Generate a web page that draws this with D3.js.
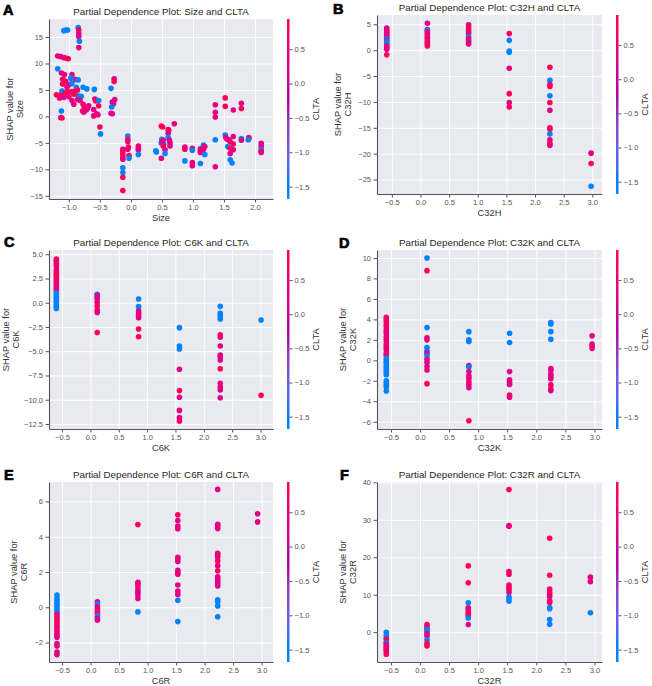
<!DOCTYPE html>
<html>
<head>
<meta charset="utf-8">
<script src="https://cdn.jsdelivr.net/npm/d3@7"></script>
<style>
  body { margin: 0; background: #fff; }
  svg { display: block; }
</style>
</head>
<body>
<svg id="chart" width="652" height="686"></svg>
<script>
// each point: [feature value, SHAP value, CLTA value]
const sizePts = [
  [-1.08,16.2,-1.6],[-1.05,16.3,-1.6],[-1.02,16.3,-1.6],
  [-0.85,16.8,-1.6],[-0.84,16.3,0.9],[-0.84,15.7,0.35],[-0.84,15.1,0.35],[-0.83,14.2,-1.6],[-0.84,13.0,0.35],
  [-1.18,11.4,0.35],[-1.13,11.3,0.35],[-1.08,11.1,0.35],[-1.04,11.0,0.9],[-1.01,10.9,0.9],
  [-1.18,9.0,-1.6],
  [-1.12,8.2,0.35],[-1.07,7.9,0.35],[-0.95,7.9,0.35],[-0.9,7.0,0.35],[-1.1,7.0,0.35],[-1.05,6.6,0.35],
  [-1.0,6.0,0.35],[-1.1,6.1,0.9],[-1.03,5.5,0.35],[-1.08,6.8,0.9],
  [-0.97,7.2,-1.6],[-0.95,6.2,-1.6],[-0.85,6.9,-1.6],[-0.88,5.5,-1.6],[-1.11,4.8,-1.6],[-0.77,5.5,-1.6],
  [-0.71,5.2,-1.6],[-0.8,3.8,-1.6],[-0.59,5.1,-1.6],[-0.85,3.9,-1.6],
  [-1.2,4.1,0.9],[-1.15,4.0,0.9],[-1.1,3.9,0.9],[-1.05,4.5,0.9],[-1.0,4.6,0.9],[-0.95,4.7,0.9],
  [-0.9,4.8,0.9],[-0.86,5.0,0.9],[-0.92,4.2,0.9],
  [-1.15,3.5,0.35],[-1.08,3.6,0.35],[-1.0,3.7,0.35],[-0.95,3.0,0.35],[-0.92,2.3,0.35],[-0.86,3.2,0.35],[-0.82,3.0,0.35],
  [-0.77,2.3,0.35],[-0.75,1.8,0.9],[-0.7,1.5,0.35],[-0.68,2.0,0.35],[-0.78,1.0,0.9],[-0.76,0.8,0.35],[-0.72,1.2,0.35],
  [-1.12,1.0,-1.6],[-1.13,-0.2,0.35],[-1.11,-0.3,0.9],
  [-0.58,3.3,0.35],[-0.57,2.9,0.9],[-0.6,1.3,0.35],[-0.6,0.1,0.35],[-0.55,0.5,0.9],
  [-0.52,3.0,-1.6],[-0.52,2.0,0.9],[-0.53,0.3,0.35],
  [-0.5,-2.0,0.9],[-0.49,-3.3,-1.6],
  [-0.32,5.3,-1.6],[-0.3,2.7,0.35],[-0.28,2.4,0.35],[-0.31,1.8,-1.6],[-0.32,0.6,0.35],[-0.3,0.5,0.35],
  [-0.27,7.1,0.35],[-0.27,6.6,0.9],[-0.26,3.2,0.35],
  [-0.13,-6.2,0.35],[-0.13,-6.7,0.9],[-0.13,-7.2,0.9],[-0.13,-7.7,0.9],[-0.13,-8.1,0.35],[-0.13,-9.7,-1.6],
  [-0.13,-10.6,-1.6],[-0.13,-11.5,0.9],[-0.13,-14.0,0.9],
  [-0.05,-3.7,-1.6],[-0.05,-4.3,0.9],[-0.05,-4.8,0.35],[-0.04,-5.8,0.9],[-0.05,-6.2,0.35],[-0.03,-7.4,0.9],[-0.03,-7.9,-1.6],
  [0.12,-5.6,0.9],[0.12,-6.0,0.35],[0.12,-6.3,0.35],[0.12,-7.2,-1.6],
  [0.4,-6.5,-1.6],[0.41,-6.7,-1.6],
  [0.49,-1.8,0.9],[0.51,-2.0,0.9],[0.5,-4.3,-1.6],[0.49,-5.0,-1.6],[0.5,-4.8,0.35],[0.53,-5.2,-1.6],[0.52,-5.6,0.9],
  [0.55,-6.3,0.35],[0.55,-7.0,-1.6],[0.49,-7.9,0.35],[0.52,-4.5,0.35],
  [0.6,-2.5,0.35],[0.61,-2.6,0.9],[0.6,-3.2,0.35],[0.6,-4.0,-1.6],[0.62,-4.5,0.35],[0.63,-5.0,0.35],[0.63,-5.6,0.35],[0.7,-1.4,0.35],
  [0.87,-5.8,0.35],[0.87,-6.2,0.9],[0.87,-8.4,-1.6],
  [0.99,-6.0,0.35],[0.99,-6.4,-1.6],[0.99,-8.7,0.35],[0.99,-9.3,0.35],
  [1.12,-6.1,0.35],[1.12,-6.5,0.9],[1.12,-6.8,0.35],[1.12,-8.9,-1.6],
  [1.17,-5.4,-1.6],[1.19,-5.7,0.35],[1.17,-6.2,0.35],[1.19,-7.2,-1.6],
  [1.36,2.2,0.35],[1.36,0.8,0.35],[1.36,-0.1,0.35],[1.36,-4.4,-1.6],[1.36,-9.5,0.35],
  [1.52,3.5,0.9],[1.52,1.9,0.9],[1.52,-3.5,-1.6],[1.53,-4.0,0.35],[1.55,-4.3,0.35],[1.56,-5.7,-1.6],[1.58,-4.4,0.35],
  [1.6,-4.8,0.35],[1.6,-6.0,0.9],[1.6,-7.0,0.35],[1.6,-8.2,-1.6],[1.63,-8.8,-1.6],
  [1.65,1.2,0.35],[1.65,-3.8,0.35],[1.65,-5.2,0.9],[1.65,-6.3,0.35],
  [1.78,2.5,0.35],[1.78,1.5,0.9],[1.78,-4.2,-1.6],[1.78,-4.5,0.35],
  [1.9,-4.0,0.9],[1.9,-4.2,0.35],[1.89,-4.4,-1.6],
  [2.1,-5.1,0.35],[2.1,-5.7,0.35],[2.1,-6.3,-1.6],[2.1,-6.8,0.9],[2.1,-6.6,0.35]
];

const c32hPts = [
  [-0.59,4.3,0.35],[-0.59,4.0,0.35],[-0.59,3.7,0.35],[-0.59,3.4,0.35],[-0.59,3.1,0.35],[-0.59,2.8,0.35],
  [-0.59,2.5,0.35],[-0.59,2.2,-1.6],[-0.59,1.9,0.35],[-0.59,1.6,-1.6],[-0.59,1.3,-1.6],[-0.59,1.0,-1.6],
  [-0.59,0.8,0.35],[-0.59,0.5,0.9],[-0.59,0.2,0.35],[-0.59,-0.9,0.9],
  [0.12,5.2,0.35],[0.12,4.0,0.35],[0.12,3.8,-1.6],[0.12,3.5,0.35],[0.12,3.2,0.35],[0.12,2.9,0.35],
  [0.12,2.5,0.9],[0.12,2.2,0.35],[0.12,1.8,0.35],[0.12,1.5,0.35],[0.12,1.2,0.9],[0.12,0.8,0.9],
  [0.84,4.9,0.35],[0.84,4.5,0.9],[0.84,4.0,0.35],[0.84,3.6,0.9],[0.84,3.2,0.35],[0.84,2.6,-1.6],
  [0.84,2.2,0.9],[0.84,1.8,0.35],[0.84,1.5,0.35],[0.84,1.2,0.35],
  [1.55,3.2,0.9],[1.55,1.9,-1.6],[1.55,-0.15,-1.6],[1.55,-0.4,-1.6],[1.55,-3.5,0.35],[1.55,-8.4,0.9],
  [1.55,-10.1,0.35],[1.55,-11.0,0.9],
  [2.26,-3.3,0.9],[2.26,-5.8,-1.6],[2.26,-6.6,0.35],[2.26,-7.0,0.9],[2.26,-8.8,-1.6],[2.26,-10.1,0.9],
  [2.26,-11.6,0.35],[2.26,-15.0,0.9],[2.26,-15.3,0.9],[2.26,-16.2,-1.6],[2.26,-17.3,0.35],[2.26,-18.0,0.9],[2.26,-18.4,0.35],
  [2.98,-19.9,0.35],[2.98,-21.9,0.9],[2.98,-26.3,-1.6]
];

const c6kPts = [
  [-0.6,4.5,0.9],[-0.6,4.3,0.35],[-0.6,4.1,0.9],[-0.6,3.9,0.35],[-0.6,3.7,0.9],[-0.6,3.4,0.35],[-0.6,3.2,0.35],
  [-0.6,3.0,0.9],[-0.6,2.8,0.9],[-0.6,2.6,0.35],[-0.6,2.4,0.9],[-0.6,2.2,0.9],[-0.6,2.0,0.35],[-0.6,1.8,0.35],
  [-0.6,1.6,0.35],[-0.6,1.4,0.9],[-0.6,1.2,0.35],[-0.6,1.0,-1.6],[-0.6,0.8,-1.6],[-0.6,0.6,-1.6],[-0.6,0.4,-1.6],
  [-0.6,0.2,-1.6],[-0.6,0.0,-1.6],[-0.6,-0.2,-1.6],[-0.6,-0.4,-1.6],[-0.6,-0.6,-1.6],
  [0.12,0.87,-1.6],[0.12,0.6,-1.6],[0.12,0.73,0.35],[0.12,0.4,0.35],[0.12,0.05,0.35],[0.12,-0.33,0.9],
  [0.12,-0.74,0.35],[0.12,-1.0,0.35],[0.12,-3.07,0.9],
  [0.85,0.39,-1.6],[0.85,-0.4,-1.6],[0.85,-0.85,0.35],[0.85,-1.1,0.35],[0.85,-1.34,0.35],[0.85,-1.55,0.35],
  [0.85,-2.7,0.9],[0.85,-3.5,0.9],
  [1.57,-2.57,-1.6],[1.57,-4.46,-1.6],[1.57,-4.77,-1.6],[1.57,-6.86,0.35],[1.57,-9.06,0.9],[1.57,-9.75,0.35],
  [1.57,-11.1,0.35],[1.57,-11.85,0.35],[1.57,-12.2,0.9],
  [2.29,-0.37,-1.6],[2.29,-1.1,-1.6],[2.29,-1.36,-1.6],[2.29,-1.67,-1.6],[2.29,-3.3,0.9],[2.29,-3.56,0.35],
  [2.29,-4.46,0.35],[2.29,-5.4,0.35],[2.29,-5.6,0.35],[2.29,-5.9,0.35],[2.29,-6.8,0.9],[2.29,-8.3,0.35],
  [2.29,-8.7,0.35],[2.29,-9.0,0.35],[2.29,-9.8,0.35],
  [3.01,-1.78,-1.6],[3.01,-9.55,0.9]
];

const c32kPts = [
  [-0.58,4.2,0.9],[-0.58,4.0,0.35],[-0.58,3.8,0.9],[-0.58,3.5,0.35],[-0.58,3.3,0.9],[-0.58,3.0,0.35],
  [-0.58,2.8,0.9],[-0.58,2.6,0.35],[-0.58,2.3,0.35],[-0.58,2.1,0.9],[-0.58,1.9,0.35],[-0.58,1.6,0.35],
  [-0.58,1.4,0.9],[-0.58,1.2,0.35],[-0.58,1.0,0.35],[-0.58,0.7,0.9],[-0.58,0.5,0.35],
  [-0.58,0.2,-1.6],[-0.58,0.0,-1.6],[-0.58,-0.2,-1.6],[-0.58,-0.4,-1.6],[-0.58,-0.6,-1.6],[-0.58,-0.8,-1.6],
  [-0.58,-1.0,-1.6],[-0.58,-1.2,-1.6],[-0.58,-1.4,-1.6],[-0.58,-2.0,-1.6],[-0.58,-2.2,-1.6],[-0.58,-2.4,-1.6],
  [-0.58,-2.6,-1.6],[-0.58,-3.0,-1.6],
  [0.12,10.0,-1.6],[0.12,8.76,0.9],[0.12,3.2,-1.6],[0.12,2.2,0.35],[0.12,2.0,0.35],[0.12,1.24,-1.6],
  [0.12,0.9,-1.6],[0.12,0.7,0.35],[0.12,0.45,-1.6],[0.12,0.1,0.35],[0.12,-0.2,0.35],[0.12,-0.6,0.35],
  [0.12,-0.95,0.35],[0.12,-2.28,0.9],
  [0.84,2.8,-1.6],[0.84,2.0,-1.6],[0.84,1.85,-1.6],[0.84,-0.52,0.35],[0.84,-0.65,-1.6],[0.84,-1.1,0.35],
  [0.84,-1.5,0.35],[0.84,-1.76,0.35],[0.84,-2.08,0.9],[0.84,-2.35,0.35],[0.84,-2.67,0.35],[0.84,-5.9,0.9],
  [1.54,2.64,-1.6],[1.54,1.73,-1.6],[1.54,-1.1,0.35],[1.54,-1.9,0.35],[1.54,-2.15,0.35],[1.54,-2.35,0.35],
  [1.54,-3.4,0.9],[1.54,-3.6,0.35],
  [2.25,3.7,-1.6],[2.25,3.55,-1.6],[2.25,2.8,-1.6],[2.25,2.05,-1.6],[2.25,-0.8,0.35],[2.25,-1.0,0.35],
  [2.25,-1.37,0.35],[2.25,-1.6,0.35],[2.25,-1.8,0.35],[2.25,-2.4,0.9],[2.25,-2.8,0.9],[2.25,-2.96,0.35],
  [2.96,2.4,0.35],[2.96,1.6,0.9],[2.96,1.43,0.35],[2.96,1.17,0.35]
];

const c6rPts = [
  [-0.59,0.69,-1.6],[-0.59,0.5,-1.6],[-0.59,0.35,-1.6],[-0.59,0.2,-1.6],[-0.59,0.05,-1.6],[-0.59,-0.1,-1.6],
  [-0.59,-0.25,-1.6],[-0.59,-0.4,0.35],[-0.59,-0.55,0.9],[-0.59,-0.7,0.35],[-0.59,-0.85,0.9],[-0.59,-1.0,0.9],
  [-0.59,-1.15,0.35],[-0.59,-1.3,0.9],[-0.59,-1.45,0.35],[-0.59,-1.6,0.9],[-0.59,-1.7,0.35],
  [-0.59,-2.06,0.35],[-0.59,-2.2,0.35],[-0.59,-2.53,0.35],[-0.59,-2.68,0.35],
  [0.12,0.31,0.35],[0.12,0.18,-1.6],[0.12,0.03,0.35],[0.12,-0.1,0.35],[0.12,-0.22,0.9],[0.12,-0.35,0.35],
  [0.12,-0.5,-1.6],[0.12,-0.63,0.35],[0.12,-0.73,0.35],
  [0.83,4.69,0.9],[0.83,1.41,0.35],[0.83,1.32,0.35],[0.83,1.17,0.9],[0.83,0.98,0.35],[0.83,0.84,0.35],
  [0.83,0.69,0.35],[0.83,0.5,0.35],[0.83,-0.26,-1.6],
  [1.53,5.24,0.9],[1.53,4.92,0.35],[1.53,4.6,0.35],[1.53,4.45,0.35],[1.53,2.83,0.9],[1.53,2.72,0.35],
  [1.53,2.6,0.35],[1.53,2.1,0.35],[1.53,1.98,0.35],[1.53,1.87,0.35],[1.53,1.26,0.35],[1.53,0.92,0.35],
  [1.53,0.73,0.35],[1.53,0.4,-1.6],[1.53,-0.81,-1.6],
  [2.23,6.68,0.35],[2.23,4.71,0.35],[2.23,4.6,0.35],[2.23,4.46,0.35],[2.23,3.06,0.9],[2.23,2.97,0.35],
  [2.23,2.85,0.35],[2.23,2.63,0.9],[2.23,2.36,0.35],[2.23,2.07,0.9],[2.23,1.73,0.35],[2.23,1.6,0.35],
  [2.23,1.47,0.35],[2.23,1.34,0.35],[2.23,1.2,0.35],[2.23,0.43,-1.6],[2.23,0.31,-1.6],[2.23,0.08,-1.6],[2.23,-0.54,-1.6],
  [2.93,5.3,0.35],[2.93,4.84,0.35]
];

const c32rPts = [
  [-0.58,0.0,-1.6],[-0.58,-0.8,-1.6],[-0.58,-1.4,-1.6],[-0.58,-1.9,0.9],[-0.58,-2.6,0.35],[-0.58,-2.9,-1.6],
  [-0.58,-3.3,0.35],[-0.58,-3.7,0.9],[-0.58,-4.1,0.35],[-0.58,-4.4,0.35],[-0.58,-4.8,0.9],[-0.58,-5.3,0.35],[-0.58,-5.9,0.9],
  [0.12,2.05,0.9],[0.12,1.43,0.35],[0.12,1.0,0.9],[0.12,0.71,-1.6],[0.12,0.1,-1.6],[0.12,-0.36,0.35],
  [0.12,-1.0,0.35],[0.12,-2.0,-1.6],[0.12,-3.0,0.9],[0.12,-3.66,0.9],
  [0.83,17.7,0.9],[0.83,13.2,0.9],[0.83,7.86,-1.6],[0.83,6.5,0.35],[0.83,6.0,0.35],[0.83,5.3,0.9],
  [0.83,4.8,0.35],[0.83,4.3,0.9],[0.83,3.8,-1.6],[0.83,2.05,0.35],
  [1.53,38.1,0.9],[1.53,28.5,0.9],[1.53,28.3,0.35],[1.53,16.2,0.35],[1.53,15.5,0.9],[1.53,12.6,0.35],
  [1.53,12.0,0.9],[1.53,11.3,0.9],[1.53,10.6,0.35],[1.53,9.4,-1.6],[1.53,8.8,-1.6],[1.53,8.3,-1.6],
  [2.23,25.1,0.9],[2.23,15.2,0.9],[2.23,11.5,0.9],[2.23,10.7,0.35],[2.23,10.1,0.9],[2.23,9.5,0.35],
  [2.23,8.4,0.35],[2.23,7.9,0.9],[2.23,6.6,-1.6],[2.23,6.25,-1.6],[2.23,3.4,-1.6],[2.23,2.1,-1.6],
  [2.93,14.7,0.35],[2.93,13.5,0.35],[2.93,5.2,-1.6]
];

const sizeXTicks = [-1.0, -0.5, 0.0, 0.5, 1.0, 1.5, 2.0];
const featureXTicks = [-0.5, 0.0, 0.5, 1.0, 1.5, 2.0, 2.5, 3.0];
const sizeYTicks = [-15, -10, -5, 0, 5, 10, 15];
const c32hYTicks = [-25, -20, -15, -10, -5, 0, 5];
const c6kYTicks = [-12.5, -10.0, -7.5, -5.0, -2.5, 0.0, 2.5, 5.0];
const c32kYTicks = [-6, -4, -2, 0, 2, 4, 6, 8, 10];
const c6rYTicks = [-2, 0, 2, 4, 6];
const c32rYTicks = [0, 10, 20, 30, 40];
const cltaTicks = [-1.5, -1.0, -0.5, 0.0, 0.5];
const cltaRange = [-1.68, 0.94];

const FONT = '"Liberation Sans", Arial, sans-serif';

const panels = [
  { letter: 'A', feature: 'Size', pts: sizePts, left: 49, right: 273, top: 19, bottom: 199,
    xDomain: [-1.32, 2.29], yDomain: [-15.6, 18.4], xTicks: sizeXTicks, yTicks: sizeYTicks, yFmt: 'd',
    ylabX: 12.5, letterX: 3, letterY: 15 },
  { letter: 'B', feature: 'C32H', pts: c32hPts, left: 377, right: 602, top: 15, bottom: 194,
    xDomain: [-0.76, 3.17], yDomain: [-27.8, 6.8], xTicks: featureXTicks, yTicks: c32hYTicks, yFmt: 'd',
    ylabX: 341, letterX: 333, letterY: 14 },
  { letter: 'C', feature: 'C6K', pts: c6kPts, left: 49, right: 273, top: 250, bottom: 429,
    xDomain: [-0.73, 3.22], yDomain: [-13.02, 5.44], xTicks: featureXTicks, yTicks: c6kYTicks, yFmt: '.1f',
    ylabX: 8.5, letterX: 4, letterY: 247 },
  { letter: 'D', feature: 'C32K', pts: c32kPts, left: 377, right: 602, top: 250, bottom: 429,
    xDomain: [-0.74, 3.13], yDomain: [-6.71, 10.78], xTicks: featureXTicks, yTicks: c32kYTicks, yFmt: 'd',
    ylabX: 345.5, letterX: 339, letterY: 248 },
  { letter: 'E', feature: 'C6R', pts: c6rPts, left: 49, right: 273, top: 482, bottom: 662,
    xDomain: [-0.73, 3.2], yDomain: [-3.1, 7.1], xTicks: featureXTicks, yTicks: c6rYTicks, yFmt: 'd',
    ylabX: 17, letterX: 4, letterY: 480 },
  { letter: 'F', feature: 'C32R', pts: c32rPts, left: 377, right: 602, top: 482, bottom: 662,
    xDomain: [-0.74, 3.13], yDomain: [-7.96, 40.1], xTicks: featureXTicks, yTicks: c32rYTicks, yFmt: 'd',
    ylabX: 345.5, letterX: 340, letterY: 480 }
];

// shap "red_blue": LCH ramp, blue -> dark purple mid -> red
function redBlue(t) {
  const l = t < 0.5 ? 54 - 28 * t : 40 + 28 * (t - 0.5);
  return d3.hcl(266.93 + 113.39 * t, 70 + 20 * t, l).formatHex();
}
const cNorm = d3.scaleLinear().domain(cltaRange).range([0, 1]).clamp(true);
const color = v => redBlue(cNorm(v));

const svg = d3.select('#chart');

// colorbar gradient
const grad = svg.append('defs').append('linearGradient')
  .attr('id', 'cbar').attr('x1', 0).attr('y1', 1).attr('x2', 0).attr('y2', 0);
d3.range(0, 1.0001, 0.05).forEach(t => {
  grad.append('stop').attr('offset', t).attr('stop-color', redBlue(t));
});

function styleAxis(ax) {
  ax.attr('font-family', FONT).attr('font-size', 7.5);
  ax.selectAll('text').attr('fill', '#555');
  ax.selectAll('line').attr('stroke', '#555');
  ax.selectAll('.domain').attr('stroke', '#555').attr('stroke-width', 1.1);
}

panels.forEach(p => {
  const x = d3.scaleLinear().domain(p.xDomain).range([p.left, p.right]);
  const y = d3.scaleLinear().domain(p.yDomain).range([p.bottom, p.top]);
  const g = svg.append('g');
  const h = p.bottom - p.top, w = p.right - p.left;

  g.append('rect').attr('x', p.left).attr('y', p.top).attr('width', w).attr('height', h)
    .attr('fill', '#e8e9f1');

  // grid
  const gx = g.append('g').attr('transform', `translate(0,${p.bottom})`)
    .call(d3.axisBottom(x).tickValues(p.xTicks).tickSize(-h).tickFormat(''));
  const gy = g.append('g').attr('transform', `translate(${p.left},0)`)
    .call(d3.axisLeft(y).tickValues(p.yTicks).tickSize(-w).tickFormat(''));
  [gx, gy].forEach(a => {
    a.select('.domain').remove();
    a.selectAll('line').attr('stroke', '#fff').attr('stroke-width', 1);
  });

  // points
  g.append('g').selectAll('circle').data(p.pts).enter().append('circle')
    .attr('cx', d => x(d[0])).attr('cy', d => y(d[1])).attr('r', 2.8)
    .attr('fill', d => color(d[2]));

  // axes
  const ax = g.append('g').attr('transform', `translate(0,${p.bottom})`)
    .call(d3.axisBottom(x).tickValues(p.xTicks).tickSize(3.5).tickSizeOuter(0).tickPadding(2)
      .tickFormat(d3.format('.1f')));
  const ay = g.append('g').attr('transform', `translate(${p.left},0)`)
    .call(d3.axisLeft(y).tickValues(p.yTicks).tickSize(3.5).tickSizeOuter(0).tickPadding(2.5)
      .tickFormat(d3.format(p.yFmt)));
  styleAxis(ax);
  styleAxis(ay);

  // title and labels
  g.append('text').attr('x', (p.left + p.right) / 2).attr('y', p.top - 4.5)
    .attr('text-anchor', 'middle').attr('font-family', FONT).attr('font-size', 9.8).attr('fill', '#262626')
    .text(`Partial Dependence Plot: ${p.feature} and CLTA`);
  g.append('text').attr('x', (p.left + p.right) / 2).attr('y', p.bottom + 21.5)
    .attr('text-anchor', 'middle').attr('font-family', FONT).attr('font-size', 9.3).attr('fill', '#333')
    .text(p.feature);
  const yl = g.append('text')
    .attr('transform', `translate(${p.ylabX},${(p.top + p.bottom) / 2}) rotate(-90)`)
    .attr('text-anchor', 'middle').attr('font-family', FONT).attr('font-size', 9.3).attr('fill', '#333');
  yl.append('tspan').attr('x', 0).attr('y', 0).text('SHAP value for');
  yl.append('tspan').attr('x', 0).attr('y', 10).text(p.feature);

  // colorbar
  const cx = p.right + 14;
  g.append('rect').attr('x', cx).attr('y', p.top).attr('width', 2.5).attr('height', h)
    .attr('fill', 'url(#cbar)');
  const cScale = d3.scaleLinear().domain(cltaRange).range([p.bottom, p.top]);
  const ac = g.append('g').attr('transform', `translate(${cx + 2.5},0)`)
    .call(d3.axisRight(cScale).tickValues(cltaTicks).tickSize(3).tickPadding(2).tickFormat(d3.format('.1f')));
  ac.select('.domain').remove();
  styleAxis(ac);
  g.append('text')
    .attr('transform', `translate(${cx + 32},${(p.top + p.bottom) / 2}) rotate(-90)`)
    .attr('text-anchor', 'middle').attr('font-family', FONT).attr('font-size', 9.3).attr('fill', '#333')
    .text('CLTA');

  // panel letter
  g.append('text').attr('x', p.letterX).attr('y', p.letterY)
    .attr('font-family', FONT).attr('font-weight', 'bold').attr('font-size', 14.5)
    .attr('stroke', '#000').attr('stroke-width', 0.7).attr('fill', '#000')
    .text(p.letter);
});
</script>
</body>
</html>
